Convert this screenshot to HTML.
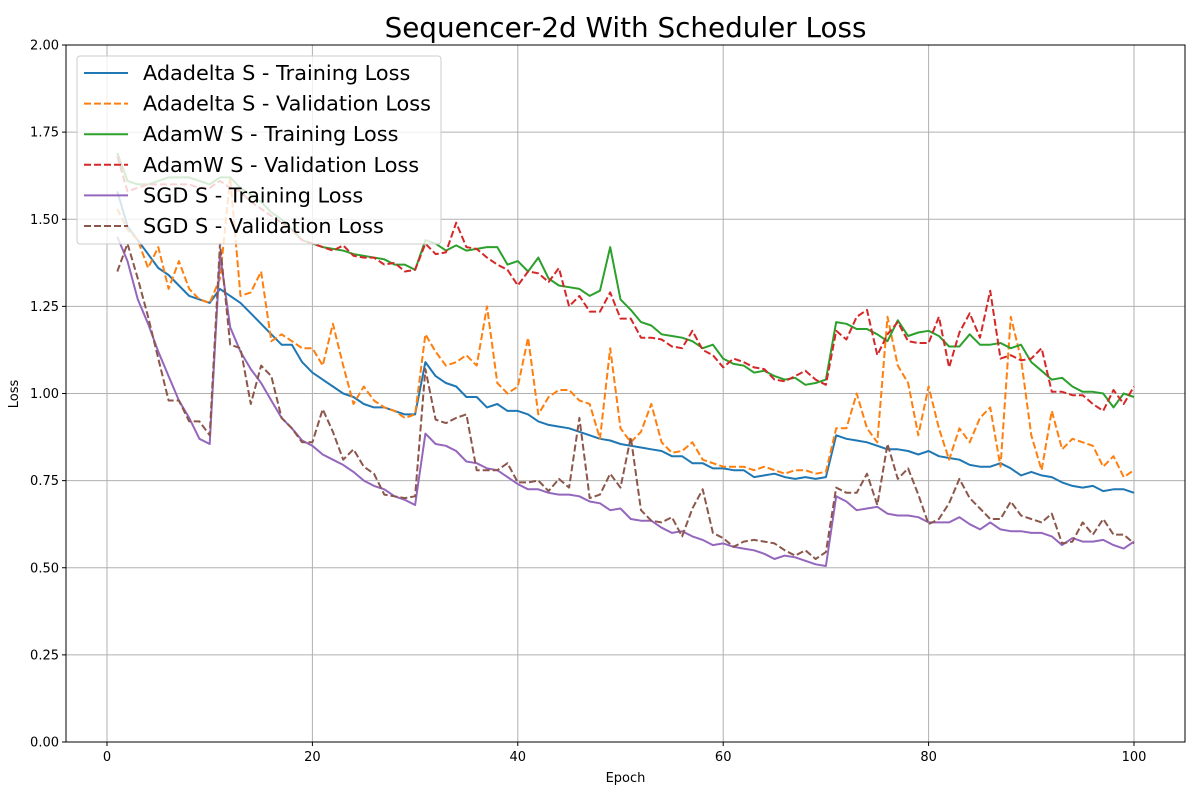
<!DOCTYPE html>
<html><head><meta charset="utf-8"><style>
body{margin:0;background:#fff;}
svg{display:block;font-family:"DejaVu Sans","Liberation Sans",sans-serif;}
</style></head><body>
<svg id="chart" width="1200" height="800" xmlns="http://www.w3.org/2000/svg">
<rect width="1200" height="800" fill="#fff"/>
<text x="625.5" y="37" text-anchor="middle" font-size="27.8" fill="#000">Sequencer-2d With Scheduler Loss</text>
<g id="grid"></g><g id="axes"></g><g id="series"></g><g id="legend"></g>
<text x="625.5" y="782" text-anchor="middle" font-size="13">Epoch</text>
<text transform="translate(18,394) rotate(-90)" text-anchor="middle" font-size="13">Loss</text>
</svg>
<script>
const xTicks=[0,20,40,60,80,100];
const yTicks=[0,0.25,0.5,0.75,1.0,1.25,1.5,1.75,2.0];
const yTickLabels=["0.00","0.25","0.50","0.75","1.00","1.25","1.50","1.75","2.00"];
const seriesNames=["Adadelta S - Training Loss","Adadelta S - Validation Loss","AdamW S - Training Loss","AdamW S - Validation Loss","SGD S - Training Loss","SGD S - Validation Loss"];
const adadeltaTrain=[1.58,1.48,1.44,1.40,1.36,1.34,1.31,1.28,1.27,1.26,1.30,1.28,1.26,1.23,1.20,1.17,1.14,1.14,1.09,1.06,1.04,1.02,1.00,0.99,0.97,0.96,0.96,0.95,0.94,0.94,1.09,1.05,1.03,1.02,0.99,0.99,0.96,0.97,0.95,0.95,0.94,0.92,0.91,0.905,0.90,0.89,0.88,0.87,0.865,0.855,0.85,0.845,0.84,0.835,0.82,0.82,0.80,0.80,0.785,0.785,0.78,0.78,0.76,0.765,0.77,0.76,0.755,0.76,0.755,0.76,0.88,0.87,0.865,0.86,0.85,0.84,0.84,0.835,0.825,0.835,0.82,0.815,0.81,0.795,0.79,0.79,0.80,0.785,0.765,0.775,0.765,0.76,0.745,0.735,0.73,0.735,0.72,0.725,0.725,0.715];
const adadeltaVal=[1.53,1.47,1.44,1.36,1.42,1.30,1.38,1.30,1.27,1.26,1.33,1.62,1.28,1.29,1.35,1.15,1.17,1.15,1.13,1.13,1.08,1.20,1.08,0.97,1.02,0.98,0.96,0.95,0.93,0.94,1.17,1.12,1.08,1.09,1.11,1.08,1.25,1.03,1.00,1.02,1.16,0.94,0.99,1.01,1.01,0.98,0.97,0.87,1.13,0.90,0.86,0.89,0.97,0.86,0.83,0.835,0.86,0.81,0.80,0.79,0.79,0.79,0.78,0.79,0.78,0.77,0.78,0.78,0.77,0.775,0.90,0.90,1.00,0.90,0.86,1.22,1.08,1.03,0.88,1.02,0.90,0.81,0.90,0.86,0.93,0.96,0.79,1.22,1.10,0.88,0.78,0.95,0.84,0.87,0.86,0.85,0.79,0.82,0.76,0.78];
const adamwTrain=[1.69,1.61,1.60,1.60,1.61,1.62,1.62,1.62,1.61,1.60,1.62,1.62,1.59,1.57,1.55,1.52,1.50,1.47,1.44,1.43,1.42,1.415,1.41,1.40,1.395,1.39,1.385,1.37,1.37,1.355,1.44,1.43,1.41,1.425,1.41,1.415,1.42,1.42,1.37,1.38,1.35,1.39,1.33,1.31,1.305,1.30,1.28,1.295,1.42,1.27,1.24,1.205,1.195,1.17,1.165,1.16,1.15,1.13,1.14,1.10,1.085,1.08,1.06,1.065,1.05,1.04,1.045,1.025,1.03,1.04,1.205,1.20,1.185,1.185,1.17,1.15,1.21,1.165,1.175,1.18,1.165,1.135,1.135,1.17,1.14,1.14,1.145,1.13,1.14,1.09,1.065,1.04,1.045,1.02,1.005,1.005,1.0,0.96,1.0,0.99];
const adamwVal=[1.68,1.58,1.59,1.60,1.60,1.60,1.60,1.60,1.59,1.59,1.61,1.59,1.58,1.55,1.53,1.51,1.49,1.47,1.44,1.43,1.42,1.41,1.425,1.395,1.39,1.39,1.37,1.375,1.35,1.355,1.43,1.40,1.405,1.49,1.42,1.415,1.39,1.37,1.355,1.31,1.35,1.345,1.32,1.36,1.25,1.28,1.235,1.235,1.29,1.215,1.215,1.16,1.16,1.155,1.135,1.13,1.18,1.125,1.11,1.075,1.10,1.09,1.075,1.07,1.04,1.035,1.05,1.065,1.04,1.025,1.18,1.155,1.22,1.24,1.11,1.17,1.205,1.15,1.145,1.145,1.22,1.075,1.175,1.23,1.16,1.295,1.10,1.11,1.095,1.10,1.13,1.005,1.005,0.995,0.995,0.97,0.95,1.01,0.97,1.02];
const sgdTrain=[1.45,1.38,1.27,1.20,1.12,1.05,0.98,0.93,0.87,0.855,1.40,1.19,1.12,1.07,1.03,0.98,0.93,0.90,0.865,0.85,0.825,0.81,0.795,0.775,0.75,0.735,0.725,0.705,0.695,0.68,0.885,0.855,0.85,0.835,0.805,0.80,0.785,0.78,0.76,0.74,0.725,0.725,0.715,0.71,0.71,0.705,0.69,0.685,0.665,0.67,0.64,0.635,0.635,0.615,0.60,0.605,0.59,0.58,0.565,0.57,0.56,0.555,0.55,0.54,0.525,0.535,0.53,0.52,0.51,0.505,0.705,0.69,0.665,0.67,0.675,0.655,0.65,0.65,0.645,0.63,0.63,0.63,0.645,0.625,0.61,0.63,0.61,0.605,0.605,0.60,0.60,0.59,0.565,0.585,0.575,0.575,0.58,0.565,0.555,0.575];
const sgdVal=[1.35,1.43,1.33,1.22,1.10,0.98,0.98,0.92,0.92,0.88,1.43,1.14,1.13,0.97,1.08,1.05,0.93,0.90,0.86,0.86,0.955,0.89,0.81,0.84,0.79,0.77,0.71,0.705,0.70,0.705,1.07,0.925,0.915,0.93,0.94,0.78,0.78,0.78,0.80,0.745,0.745,0.75,0.72,0.755,0.73,0.93,0.70,0.71,0.77,0.73,0.875,0.665,0.635,0.63,0.645,0.59,0.67,0.725,0.60,0.585,0.56,0.575,0.58,0.575,0.57,0.55,0.535,0.55,0.525,0.545,0.73,0.715,0.715,0.77,0.68,0.855,0.755,0.785,0.71,0.625,0.64,0.685,0.755,0.70,0.67,0.64,0.64,0.69,0.65,0.64,0.63,0.655,0.57,0.575,0.63,0.595,0.64,0.595,0.595,0.57];

const NS="http://www.w3.org/2000/svg";
const L=66,R=1185,T=45,B=742;
const xs=v=>107+v*(1134-107)/100;
const ys=v=>B-v*(B-T)/2;
function mk(tag,attrs,parent){const e=document.createElementNS(NS,tag);for(const k in attrs)e.setAttribute(k,attrs[k]);parent.appendChild(e);return e;}
const grid=document.getElementById('grid'),axes=document.getElementById('axes'),ser=document.getElementById('series'),leg=document.getElementById('legend');
xTicks.forEach(t=>{const x=xs(t);
 const g=mk('line',{x1:x,x2:x,y1:T,y2:B,stroke:'#b0b0b0','stroke-width':1},grid);
 
 
 mk('line',{x1:x,x2:x,y1:B,y2:B+4,stroke:'#000'},axes);
 const lb=mk('text',{x:x,y:B+19,'text-anchor':'middle','font-size':13},axes);lb.textContent=t;
 
 
});
yTicks.forEach((t,i)=>{const y=ys(t);
 const g=mk('line',{x1:L,x2:R,y1:y,y2:y,stroke:'#b0b0b0','stroke-width':1},grid);
 
 
 mk('line',{x1:L-4,x2:L,y1:y,y2:y,stroke:'#000'},axes);
 const lb=mk('text',{x:L-7,y:y+4.5,'text-anchor':'end','font-size':13},axes);lb.textContent=yTickLabels[i];
 
 
});
const frame=mk('rect',{x:L,y:T,width:R-L,height:B-T,fill:'none',stroke:'#000','stroke-width':1},axes);


const data=[adadeltaTrain,adadeltaVal,adamwTrain,adamwVal,sgdTrain,sgdVal];
const colors=['#1f77b4','#ff7f0e','#2ca02c','#d62728','#9467bd','#8c564b'];
const slugs=['adadelta-training-line','adadelta-validation-line','adamw-training-line','adamw-validation-line','sgd-training-line','sgd-validation-line'];
data.forEach((arr,i)=>{
 const d=arr.map((v,j)=>(j?'L':'M')+xs(j+1).toFixed(1)+','+ys(v).toFixed(1)).join('');
 const p=mk('path',{d:d,fill:'none',stroke:colors[i],'stroke-width':2,'stroke-linejoin':'round'},ser);
 if(i%2==1)p.setAttribute('stroke-dasharray','7,3');
 
 
});
const box=mk('rect',{x:77,y:56,width:364,height:188,rx:3,fill:'#fff','fill-opacity':0.8,stroke:'#ccc'},leg);


seriesNames.forEach((n,i)=>{const y=73+i*30.6;
 const g=mk('g',{},leg);
 
 
 const ln=mk('line',{x1:84,x2:128,y1:y,y2:y,stroke:colors[i],'stroke-width':2},g);
 if(i%2==1)ln.setAttribute('stroke-dasharray','7,3');
 const t=mk('text',{x:143,y:y+7,'font-size':20.8},g);t.textContent=n;
});
</script>
</body></html>
